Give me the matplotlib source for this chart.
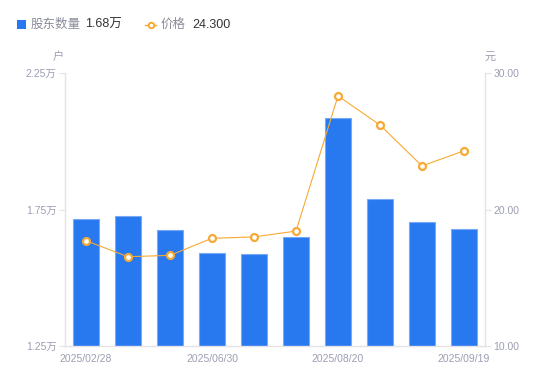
import matplotlib
matplotlib.use("Agg")
import matplotlib.pyplot as plt
from matplotlib.lines import Line2D
from matplotlib.patches import Rectangle

plt.rcParams['font.family'] = ['Liberation Sans', 'Noto Sans CJK SC', 'DejaVu Sans']

# ---- data ----
dates = ["2025/02/28", "2025/03/31", "2025/04/30", "2025/06/30", "2025/07/10",
         "2025/07/31", "2025/08/20", "2025/08/29", "2025/09/10", "2025/09/19"]
shareholders = [1.716, 1.726, 1.675, 1.591, 1.586, 1.650, 2.084, 1.787, 1.703, 1.68]  # 万户
price = [17.71, 16.54, 16.64, 17.89, 17.99, 18.42, 28.32, 26.19, 23.19, 24.30]       # 元
left_ticks = [1.25, 1.75, 2.25]
right_ticks = [10, 20, 30]
shown_idx = [0, 3, 6, 9]

BLUE = "#2878f0"
BLUE_EDGE = "#79a8f6"
ORANGE = "#f7a935"
AXIS = "#e3e3e8"
TICKTXT = "#9c9fb2"

W, H = 550, 381
fig = plt.figure(figsize=(W / 100, H / 100), dpi=100)
ax = fig.add_axes([65 / W, (H - 346) / H, 420 / W, 273 / H])
x = list(range(len(dates)))
ax.bar(x, shareholders, width=0.6, color=BLUE, edgecolor=BLUE_EDGE, linewidth=0.8, zorder=2)
ax.set_xlim(-0.5, len(dates) - 0.5)
ax.set_ylim(left_ticks[0], left_ticks[-1])
ax.set_yticks(left_ticks)
ax.set_yticklabels([f"{v:.2f}万" for v in left_ticks])
ax.set_xticks([x[i] for i in shown_idx])
ax.set_xticklabels([dates[i] for i in shown_idx])
ax.tick_params(axis='x', length=0, pad=6, labelsize=7.5, labelcolor=TICKTXT)
ax.tick_params(axis='y', length=4, width=0.8, color=AXIS, pad=2, labelsize=7.5, labelcolor=TICKTXT)
for s in ["top", "right"]:
    ax.spines[s].set_visible(False)
for s in ["left", "bottom"]:
    ax.spines[s].set_color(AXIS)
    ax.spines[s].set_linewidth(1)

ax2 = ax.twinx()
ax2.plot(x, price, color=ORANGE, linewidth=0.8, marker='o', markersize=5,
         markerfacecolor='white', markeredgecolor=ORANGE, markeredgewidth=1.6, zorder=3)
ax2.set_ylim(right_ticks[0], right_ticks[-1])
ax2.set_yticks(right_ticks)
ax2.set_yticklabels([f"{v:.2f}" for v in right_ticks])
ax2.tick_params(axis='y', length=4, width=0.8, color=AXIS, pad=2, labelsize=7.5, labelcolor=TICKTXT)
for s in ["top", "left", "bottom"]:
    ax2.spines[s].set_visible(False)
ax2.spines["right"].set_color(AXIS)
ax2.spines["right"].set_linewidth(1)

# unit labels
fig.text(58 / W, 1 - 57 / H, "户", ha='center', va='center', fontsize=8, color=TICKTXT)
fig.text(490 / W, 1 - 57 / H, "元", ha='center', va='center', fontsize=8, color=TICKTXT)

# legend
fig.patches.append(Rectangle((17 / W, 1 - 29 / H), 9 / W, 9 / H, transform=fig.transFigure,
                             facecolor=BLUE, edgecolor='none'))
fig.text(31 / W, 1 - 24.5 / H, "股东数量", ha='left', va='center', fontsize=9, color="#8a8c99")
fig.text(85 / W, 1 - 24.5 / H, f"{shareholders[-1]:.2f}万", ha='left', va='center', fontsize=9, color="#333333")
fig.lines.append(Line2D([145 / W, 156 / W], [1 - 24.5 / H, 1 - 24.5 / H], transform=fig.transFigure,
                        color=ORANGE, linewidth=1))
fig.lines.append(Line2D([150.5 / W], [1 - 24.5 / H], transform=fig.transFigure,
                        color=ORANGE, linestyle='none', marker='o', markersize=4,
                        markerfacecolor='white', markeredgecolor=ORANGE, markeredgewidth=1.4))
fig.text(161 / W, 1 - 24.5 / H, "价格", ha='left', va='center', fontsize=9, color="#8a8c99")
fig.text(192 / W, 1 - 24.5 / H, f"{price[-1]:.3f}", ha='left', va='center', fontsize=9, color="#333333")

fig.savefig("out.png", dpi=100, facecolor='white')
